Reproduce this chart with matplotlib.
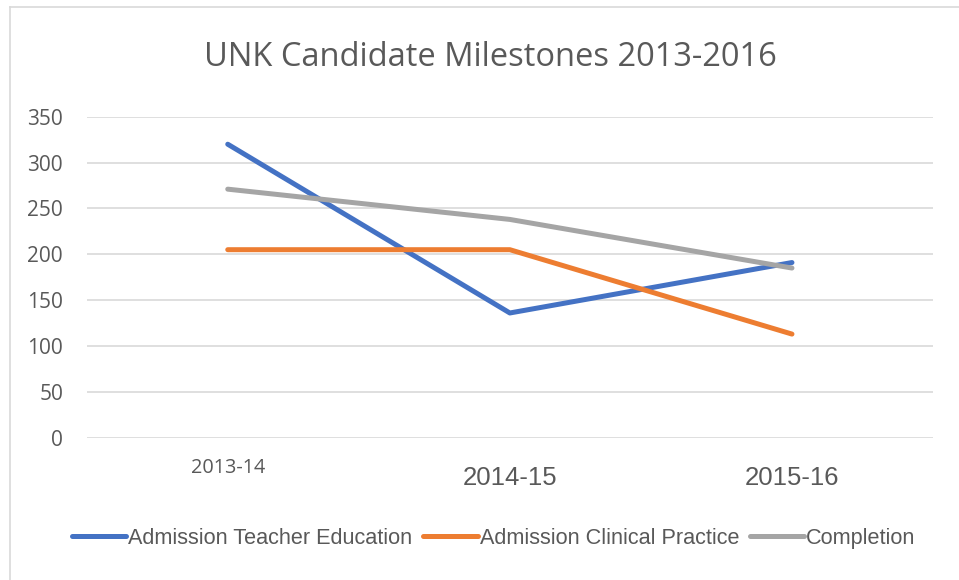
import matplotlib
matplotlib.use("Agg")
import matplotlib.pyplot as plt
from matplotlib.lines import Line2D

# datos
anios = ["2013-14", "2014-15", "2015-16"]
admision_docente = [320, 136, 191]
admision_clinica = [205, 205, 113]
completado = [271, 238, 185]

series = [("Admission Teacher Education", admision_docente, "#4472C4"),
          ("Admission Clinical Practice", admision_clinica, "#ED7D31"),
          ("Completion", completado, "#A5A5A5")]

texto = "#595959"
fuente = ["Open Sans", "DejaVu Sans"]
angosta = ["Liberation Sans Narrow", "Liberation Sans", "DejaVu Sans"]

fig = plt.figure(figsize=(9.59, 5.80), dpi=100)
ax = fig.add_axes([0.0904, 0.2453, 0.9729 - 0.0904, 0.7988 - 0.2453])

x = range(len(anios))
for nombre, valores, color in series:
    ax.plot(x, valores, color=color, lw=3.6, solid_capstyle="round",
            solid_joinstyle="round", label=nombre)

ax.set_xlim(-0.5, 2.5)
ax.set_ylim(0, 350)
ax.set_yticks(range(0, 351, 50))
ax.grid(axis="y", color="#D9D9D9", lw=1.2)
ax.set_axisbelow(True)
for s in ax.spines.values():
    s.set_visible(False)
ax.tick_params(axis="both", length=0)
ax.tick_params(axis="y", pad=17, labelsize=15, labelcolor=texto)
for t in ax.get_yticklabels():
    t.set_family(fuente)

# etiquetas del eje x, la primera mas chica
ax.set_xticks(list(x))
ax.set_xticklabels([])
for i, etiqueta in enumerate(anios):
    if i == 0:
        ax.text(i, -33, etiqueta, ha="center", va="center", fontsize=14.3,
                color=texto, family=fuente, transform=ax.transData)
    else:
        ax.text(i, -44, etiqueta, ha="center", va="center", fontsize=18.5,
                color=texto, family=angosta, transform=ax.transData)

fig.text(0.511, 0.900, "UNK Candidate Milestones 2013-2016", ha="center",
         va="center", fontsize=23.5, color=texto, family=fuente)

leg = fig.legend(loc="center", bbox_to_anchor=(0.515, 0.072), ncol=3,
                 frameon=False, handlelength=2.5,
                 handletextpad=0.1, columnspacing=0.5,
                 prop={"family": angosta, "size": 15.6})
for t in leg.get_texts():
    t.set_color(texto)

# borde del grafico
fig.add_artist(Line2D([0.0105, 0.0105], [0, 0.988], color="#D9D9D9", lw=1.2,
                      transform=fig.transFigure))
fig.add_artist(Line2D([0.0105, 1], [0.988, 0.988], color="#D9D9D9", lw=1.2,
                      transform=fig.transFigure))

plt.savefig("out.png", dpi=100)
